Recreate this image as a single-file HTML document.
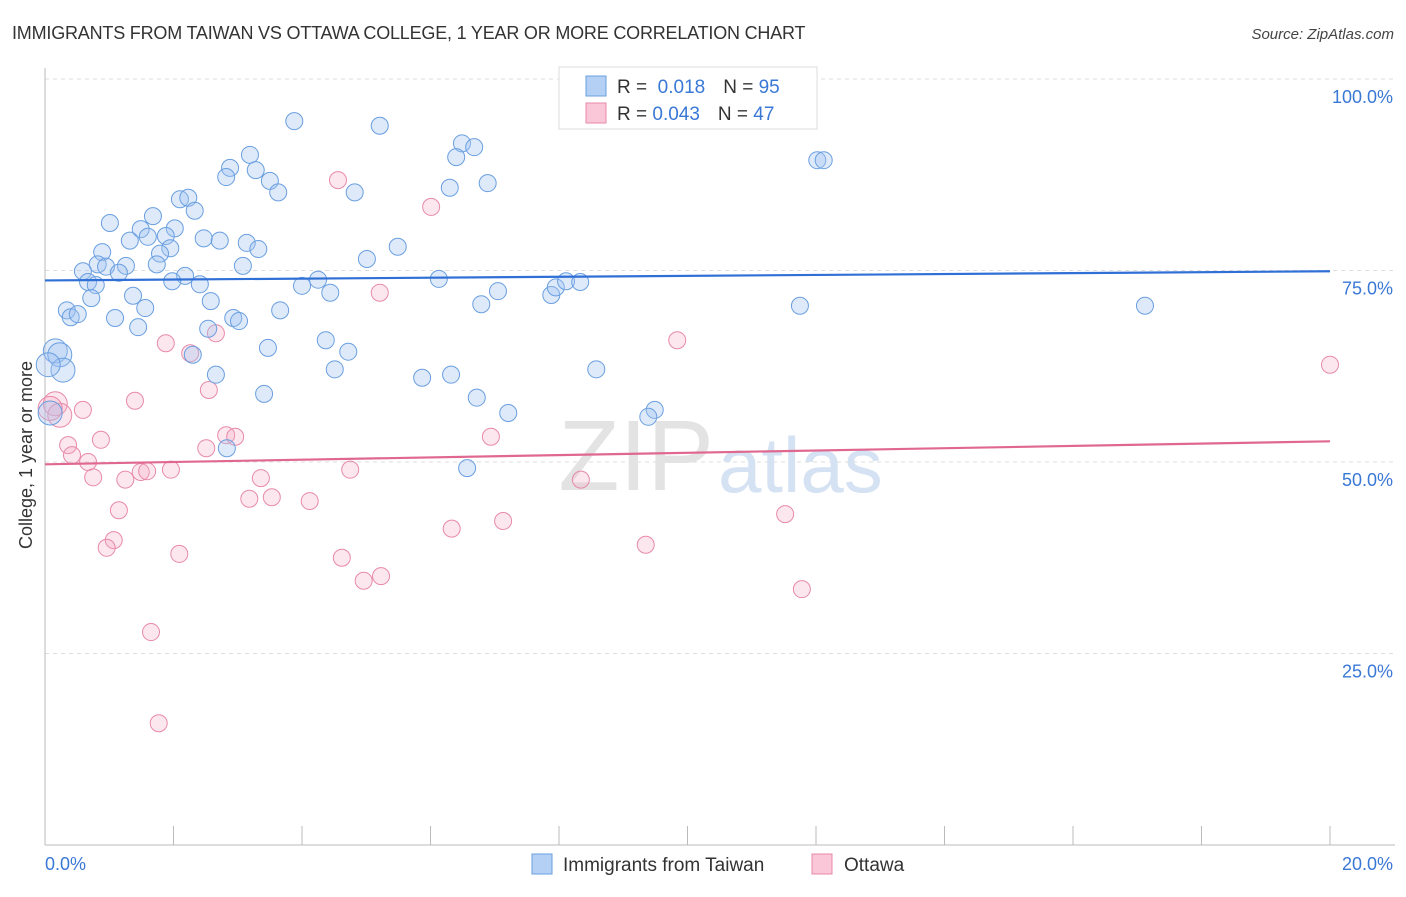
<!DOCTYPE html>
<html><head><meta charset="utf-8"><style>
body{margin:0;background:#fff;font-family:"Liberation Sans",sans-serif;}
svg text{font-family:"Liberation Sans",sans-serif;}
</style></head><body>
<svg id="chart" width="1406" height="892" xmlns="http://www.w3.org/2000/svg">
<text x="12" y="39" font-size="18" fill="#333" letter-spacing="-0.2">IMMIGRANTS FROM TAIWAN VS OTTAWA COLLEGE, 1 YEAR OR MORE CORRELATION CHART</text>
<text x="1394" y="39" font-size="15" fill="#444" text-anchor="end" font-style="italic">Source: ZipAtlas.com</text>
<g id="grid"></g>
<g id="axes"></g>
<text x="714" y="490" font-size="100" fill="#e3e3e3" text-anchor="end" font-family="Liberation Serif">ZIP</text>
<text x="718" y="492" font-size="78" fill="#d5e2f3">atlas</text>
<g id="points"></g>
<g id="trends"></g>
<text x="32" y="455" font-size="18" fill="#333" text-anchor="middle" transform="rotate(-90 32 455)">College, 1 year or more</text>
<g>
<rect x="559" y="67" width="258" height="62" fill="#fff" stroke="#ddd"/>
<rect x="586" y="76" width="20" height="20" fill="#b4d0f4" stroke="#6a9fe0"/>
<rect x="586" y="103" width="20" height="20" fill="#f9c7d7" stroke="#e88aa8"/>
<text x="617" y="93" font-size="19" fill="#333">R = <tspan fill="#3a78d6">&#160;0.018</tspan><tspan dx="18">N = </tspan><tspan fill="#3a78d6">95</tspan></text>
<text x="617" y="120" font-size="19" fill="#333">R = <tspan fill="#3a78d6">0.043</tspan><tspan dx="18">N = </tspan><tspan fill="#3a78d6">47</tspan></text>
</g>
<g>
<rect x="532" y="854" width="20" height="20" fill="#b4d0f4" stroke="#6a9fe0"/>
<text x="563" y="871" font-size="19" fill="#333">Immigrants from Taiwan</text>
<rect x="812" y="854" width="20" height="20" fill="#f9c7d7" stroke="#e88aa8"/>
<text x="844" y="871" font-size="19" fill="#333">Ottawa</text>
</g>
</svg>
<script>
const yTicks=[25,50,75,100];
const yTickLabels=["25.0%","50.0%","75.0%","100.0%"];
const xTickLabels=["0.0%","20.0%"];
const blueX=[3.88,5.21,6.49,6.68,6.40,3.19,2.88,2.82,3.28,3.50,3.63,4.82,6.30,6.89,12.02,12.12,2.10,2.23,2.33,1.01,1.68,1.49,2.02,1.32,1.60,1.88,2.47,2.72,3.14,3.32,1.95,0.89,1.79,0.82,0.95,1.26,1.15,1.74,0.59,0.67,0.79,2.18,1.98,2.41,3.08,5.01,5.49,4.25,4.00,4.44,6.13,7.05,6.79,7.88,7.95,8.11,8.33,11.75,17.12,0.72,1.37,1.56,2.58,3.66,0.34,0.40,0.51,1.09,1.45,2.54,2.93,3.02,4.37,3.47,4.72,2.30,0.16,0.23,0.28,0.05,4.51,2.66,5.87,6.32,8.58,3.41,6.72,7.21,9.49,9.39,2.83,6.57,0.08];
const blueY=[94.5,93.9,91.6,91.1,89.8,90.1,88.4,87.2,88.1,86.7,85.2,85.2,85.8,86.4,89.4,89.4,84.3,84.5,82.8,81.2,82.1,80.4,80.5,78.9,79.4,79.5,79.2,78.9,78.6,77.8,77.9,77.4,77.2,75.8,75.5,75.6,74.7,75.8,74.9,73.5,73.1,74.3,73.6,73.2,75.6,76.5,78.1,73.8,73.0,72.1,73.9,72.3,70.6,71.8,72.8,73.6,73.5,70.4,70.4,71.4,71.7,70.1,71.0,69.8,69.8,68.9,69.3,68.8,67.6,67.4,68.8,68.4,65.9,64.9,64.4,64.0,64.5,64.0,62.0,62.7,62.1,61.4,61.0,61.4,62.1,58.9,58.4,56.4,56.8,55.9,51.8,49.2,56.4];
const pinkX=[4.56,6.01,5.21,9.84,1.88,2.26,2.66,2.55,20.0,1.40,0.59,0.16,0.23,0.36,0.42,0.67,0.87,0.75,1.25,1.49,1.59,1.96,2.51,2.82,2.96,3.36,3.18,3.53,4.12,4.75,6.94,8.34,1.15,1.07,0.96,2.09,4.62,5.23,4.96,6.33,7.13,9.35,11.52,11.78,1.65,1.77,0.08];
const pinkY=[86.8,83.3,72.1,65.9,65.5,64.2,66.8,59.4,62.7,58.0,56.8,57.6,56.1,52.2,50.9,50.0,52.9,48.0,47.7,48.7,48.8,49.0,51.8,53.5,53.3,47.9,45.2,45.4,44.9,49.0,53.3,47.7,43.7,39.8,38.8,38.0,37.5,35.1,34.5,41.3,42.3,39.2,43.2,33.4,27.8,15.9,57.0];
const blueTrend=[73.7,74.9];
const pinkTrend=[49.7,52.7];
const NS="http://www.w3.org/2000/svg";
const X0=45,X1=1330,Y0=845,Y100=79;
const sx=v=>X0+(X1-X0)*v/20;
const sy=v=>Y0-(Y0-Y100)*v/100;
function mk(p,t,a){const e=document.createElementNS(NS,t);for(const k in a)e.setAttribute(k,a[k]);p.appendChild(e);return e;}
const grid=document.getElementById('grid'),axes=document.getElementById('axes');
yTicks.forEach((t,i)=>{
 const l=mk(grid,'line',{x1:45,x2:1395,y1:sy(t),y2:sy(t),stroke:'#ddd','stroke-dasharray':'4,4'});
 
 
 const tx=mk(axes,'text',{x:1393,y:sy(t)+24,'font-size':18,fill:'#3a78d6','text-anchor':'end'});
 tx.textContent=yTickLabels[i];
 
 
});
mk(axes,'line',{x1:45,x2:45,y1:68,y2:845,stroke:'#bbb'});
mk(axes,'line',{x1:45,x2:1395,y1:845,y2:845,stroke:'#bbb'});
for(let v=0;v<=20;v+=2){const l=mk(axes,'line',{x1:sx(v),x2:sx(v),y1:826,y2:845,stroke:'#bbb'});
 
 }
const xl0=mk(axes,'text',{x:45,y:870,'font-size':18,fill:'#3a78d6'});xl0.textContent=xTickLabels[0];


const xl1=mk(axes,'text',{x:1393,y:870,'font-size':18,fill:'#3a78d6','text-anchor':'end'});xl1.textContent=xTickLabels[1];


const pts=document.getElementById('points');
function dots(xs,ys,fill,stroke,name){xs.forEach((x,i)=>{
 const r=x<0.3?12:8.5;
 const c=mk(pts,'circle',{cx:sx(x),cy:sy(ys[i]),r:r,fill:fill,stroke:stroke,'stroke-width':1});
 
 
});}
dots(pinkX,pinkY,'rgba(245,170,195,0.28)','#e88aa8','ottawa-point');
dots(blueX,blueY,'rgba(160,196,240,0.35)','#6a9fe0','taiwan-point');
const tr=document.getElementById('trends');
const bt=mk(tr,'line',{x1:sx(0),x2:sx(20),y1:sy(blueTrend[0]),y2:sy(blueTrend[1]),stroke:'#2f6fd6','stroke-width':2.2});


const pt=mk(tr,'line',{x1:sx(0),x2:sx(20),y1:sy(pinkTrend[0]),y2:sy(pinkTrend[1]),stroke:'#e06890','stroke-width':2.2});


</script>
</body></html>
